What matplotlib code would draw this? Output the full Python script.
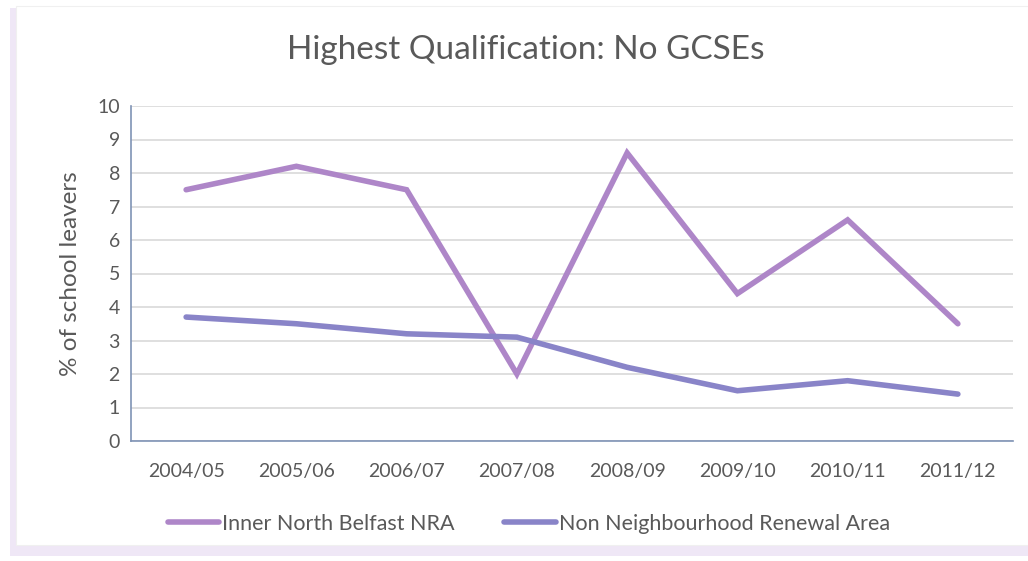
import matplotlib.pyplot as plt
from matplotlib.lines import Line2D
from matplotlib.patches import Rectangle

years = ['2004/05', '2005/06', '2006/07', '2007/08', '2008/09', '2009/10', '2010/11', '2011/12']
inner_north = [7.5, 8.2, 7.5, 2.0, 8.6, 4.4, 6.6, 3.5]
non_nra = [3.7, 3.5, 3.2, 3.1, 2.2, 1.5, 1.8, 1.4]
series_names = ['Inner North Belfast NRA', 'Non Neighbourhood Renewal Area']

plt.rcParams['font.family'] = ['Lato', 'DejaVu Sans']
txt = '#595959'

fig = plt.figure(figsize=(10.28, 5.61), dpi=100)
# faint lavender frame shadow (left and bottom)
fig.patches.append(Rectangle((10 / 1028, 1 - 556 / 561), 1018 / 1028, 548 / 561,
                             transform=fig.transFigure, facecolor='#efe7f6', edgecolor='none', zorder=-2))
fig.patches.append(Rectangle((16 / 1028, 1 - 545 / 561), 1012 / 1028, 539 / 561,
                             transform=fig.transFigure, facecolor='white', edgecolor='#f0f0f0', lw=0.8, zorder=-1))

ax = fig.add_axes([131 / 1028, 1 - 441 / 561, 882 / 1028, 335 / 561])
ax.set_zorder(2)
ax.set_facecolor('none')
x = range(len(years))
ax.plot(x, inner_north, color='#ae86c8', lw=4, solid_capstyle='round', solid_joinstyle='miter', zorder=3)
ax.plot(x, non_nra, color='#8984c8', lw=4, solid_capstyle='round', solid_joinstyle='miter', zorder=3)

ax.set_xlim(-0.5, 7.5)
ax.set_ylim(0, 10)
ax.set_yticks(range(0, 11))
ax.set_xticks(list(x))
ax.set_xticklabels(years)
ax.yaxis.grid(True, color='#d9d9d9', lw=1.2)
ax.set_axisbelow(True)
for s in ['top', 'right']:
    ax.spines[s].set_visible(False)
for s in ['left', 'bottom']:
    ax.spines[s].set_color('#7f93b5')
    ax.spines[s].set_linewidth(1.2)
ax.tick_params(length=0, labelsize=14, colors=txt, pad=8)
ax.tick_params(axis='x', pad=16)
ax.set_ylabel('% of school leavers', fontsize=17.5, color=txt, labelpad=12)

fig.text(526 / 1028, 1 - 50 / 561, 'Highest Qualification: No GCSEs', ha='center', va='center',
         fontsize=24, color=txt)

handles = [Line2D([], [], color='#ae86c8', lw=4, solid_capstyle='round'),
           Line2D([], [], color='#8984c8', lw=4, solid_capstyle='round')]
fig.legend(handles, series_names, loc='center', bbox_to_anchor=(529 / 1028, 1 - 524 / 561), ncol=2,
           frameon=False, fontsize=15.5, handlelength=2.4, handletextpad=0.15, columnspacing=2.3,
           labelcolor=txt)

fig.savefig('out.png', dpi=100)
